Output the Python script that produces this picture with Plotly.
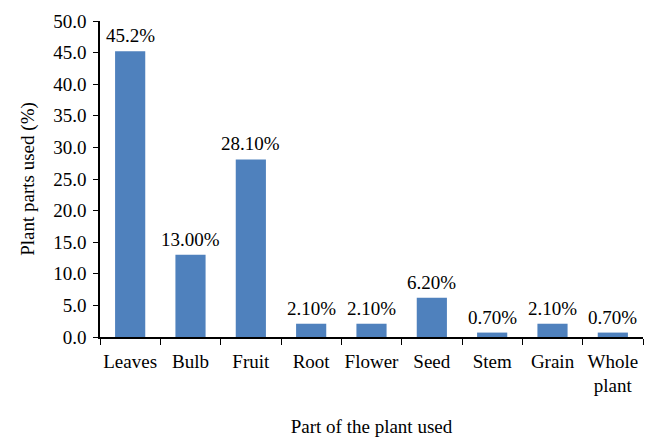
import plotly.graph_objects as go

categories = ["Leaves", "Bulb", "Fruit", "Root", "Flower", "Seed", "Stem", "Grain", "Whole<br>plant"]
values = [45.2, 13.0, 28.1, 2.1, 2.1, 6.2, 0.7, 2.1, 0.7]
labels = ["45.2%", "13.00%", "28.10%", "2.10%", "2.10%", "6.20%", "0.70%", "2.10%", "0.70%"]
y_ticks = [0, 5, 10, 15, 20, 25, 30, 35, 40, 45, 50]

FONT = "Liberation Serif"
FS = 19

fig = go.Figure(go.Bar(
    x=categories, y=values,
    marker=dict(color="#4F81BD", line=dict(width=0)),
    cliponaxis=False,
))

for c, v, lab in zip(categories, values, labels):
    fig.add_annotation(
        x=c, y=v, text=lab, showarrow=False,
        yanchor="bottom", yshift=3,
        font=dict(family=FONT, size=FS, color="black"),
    )

# page body has an 8px default margin, so the figure is 650x440
fig.update_layout(
    width=650, height=440,
    margin=dict(l=92, r=15, t=13, b=111),
    paper_bgcolor="white", plot_bgcolor="white",
    bargap=0.5,
    font=dict(family=FONT, size=FS, color="black"),
    showlegend=False,
)
fig.update_xaxes(
    automargin=False, tickangle=0,
    showline=True, linecolor="black", linewidth=1.5,
    ticks="outside", tickson="boundaries", ticklen=6, tickcolor="black",
    ticklabelstandoff=6,
    title=dict(text="Part of the plant used", font=dict(family=FONT, size=FS), standoff=24),
    tickfont=dict(family=FONT, size=FS),
    showgrid=False,
)
fig.update_yaxes(
    automargin=False,
    range=[0, 50], tickvals=y_ticks, tickformat=".1f",
    showline=True, linecolor="black", linewidth=1.5,
    ticks="outside", ticklen=5, tickcolor="black",
    ticklabelstandoff=3,
    title=dict(text="Plant parts used (%)", font=dict(family=FONT, size=FS), standoff=14),
    tickfont=dict(family=FONT, size=FS),
    showgrid=False, zeroline=False,
)

fig.write_html("out.html")
